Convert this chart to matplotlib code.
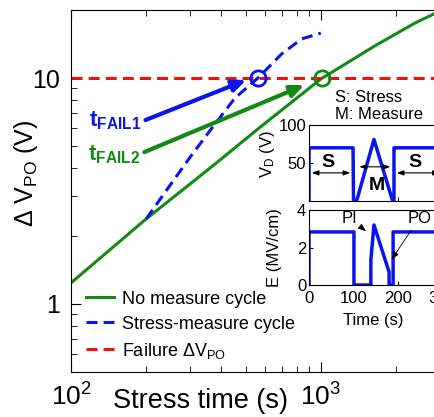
import numpy as np
import matplotlib.pyplot as plt
from matplotlib.ticker import NullFormatter

plt.rcParams['font.family'] = ['Liberation Sans', 'DejaVu Sans']
plt.rcParams['mathtext.fontset'] = 'custom'
plt.rcParams['mathtext.rm'] = 'Liberation Sans'
plt.rcParams['mathtext.it'] = 'Liberation Sans'
plt.rcParams['mathtext.bf'] = 'Liberation Sans:bold'

# main curves (stress time in s, delta V_PO in V)
t_nomeas = [100, 200, 377, 560, 1000, 1650, 2380, 3000]
dv_nomeas = [1.24, 2.38, 4.16, 5.95, 9.9, 13.9, 17.5, 19.8]
t_meas = [200, 250, 300, 377, 453, 560, 698, 839, 1000]
dv_meas = [2.38, 3.37, 4.47, 6.26, 8.15, 10.0, 12.8, 14.9, 15.8]
dv_fail = 10
t_fail1 = 560
t_fail2 = 1010

# inset waveforms
t_vd = [0, 0, 99, 100, 107, 146, 188, 191, 191, 300]
vd = [0, 70, 70, 0, 0, 81, 0, 0, 70, 70]
t_e = [0, 0, 101, 101, 139, 139, 146, 180, 180, 189, 189, 300]
e_field = [0, 2.83, 2.83, 0, 0, 1.33, 3.2, 0.69, 0, 0, 2.83, 2.83]

green = '#138a13'
blue = '#0a14f0'
red = '#f01010'

fig = plt.figure(figsize=(4.35, 4.17), dpi=100)
ax = fig.add_axes([71/435, 1-372/417, 369/435, 362/417])

dash = (0, (3.6, 2.0))
ax.plot(t_nomeas, dv_nomeas, color=green, lw=2.2, label='No measure cycle')
ax.plot(t_meas, dv_meas, color=blue, lw=2.2, ls=dash, label='Stress-measure cycle')
ax.axhline(dv_fail, color=red, lw=2.2, ls=dash, label=r'Failure $\Delta$V$_{\mathrm{PO}}$')
ax.plot([t_fail1], [dv_fail], 'o', mfc='none', mec=blue, mew=2, ms=11)
ax.plot([t_fail2], [dv_fail], 'o', mfc='none', mec=green, mew=2, ms=11)

ax.annotate('', xy=(515, 9.9), xytext=(194, 6.45),
            arrowprops=dict(arrowstyle='-|>,head_length=0.8,head_width=0.35', color=blue, lw=3))
ax.annotate('', xy=(880, 9.4), xytext=(192, 4.65),
            arrowprops=dict(arrowstyle='-|>,head_length=0.8,head_width=0.35', color=green, lw=3))
ax.text(192, 6.45, r'$\mathbf{t_{FAIL1}}$', color=blue, fontsize=16, ha='right', va='center')
ax.text(190, 4.6, r'$\mathbf{t_{FAIL2}}$', color=green, fontsize=16, ha='right', va='center')

ax.set_xscale('log')
ax.set_yscale('log')
ax.set_xlim(100, 3000)
ax.set_ylim(0.5, 20)
ax.set_yticks([1, 10])
ax.set_yticklabels(['1', '10'])
ax.yaxis.set_minor_formatter(NullFormatter())
ax.xaxis.set_minor_formatter(NullFormatter())
ax.tick_params(which='both', direction='in', top=True, labelsize=18, pad=8)
ax.tick_params(axis='x', labelsize=19)
ax.tick_params(which='major', length=7)
ax.tick_params(which='minor', length=4)
ax.spines['right'].set_visible(False)

ax.set_xlabel('Stress time (s)', fontsize=19.5)
ax.xaxis.set_label_coords(0.35, -0.045)
ax.set_ylabel(r'$\Delta$ V$_{\mathrm{PO}}$ (V)', fontsize=18)
ax.yaxis.set_label_coords(-0.085, 0.55)

ax.legend(loc='upper left', bbox_to_anchor=(0.02, 0.245), frameon=False, fontsize=13,
          handlelength=1.6, handletextpad=0.4, labelspacing=0.45, borderaxespad=0)

fig.text(335/435, 1-97/417, 'S: Stress', fontsize=12, va='center')
fig.text(335/435, 1-114/417, 'M: Measure', fontsize=12, va='center')

# inset: drain voltage
ax1 = fig.add_axes([309/435, 1-201/417, 133.5/435, 76/417])
ax1.plot(t_vd, vd, color=blue, lw=2.5)
ax1.set_xlim(0, 300)
ax1.set_ylim(0, 100)
ax1.set_yticks([50, 100])
ax1.set_xticks([0, 100, 200, 300])
ax1.set_xticklabels([])
ax1.tick_params(direction='in', labelsize=12, length=3, pad=2)
ax1.set_ylabel('V$_{\\mathrm{D}}$ (V)', fontsize=12)
ax1.yaxis.set_label_coords(-0.24, 0.62)
arr = dict(arrowstyle='<|-|>,head_length=0.4,head_width=0.15', color='black', lw=0.8)
ax1.annotate('', xy=(0, 37), xytext=(99, 37), arrowprops=arr)
ax1.annotate('', xy=(107, 45), xytext=(189, 45), arrowprops=arr)
ax1.annotate('', xy=(191, 37), xytext=(300, 37), arrowprops=arr)
ax1.text(43, 51, 'S', fontsize=14, fontweight='bold', ha='center', va='center')
ax1.text(152, 20, 'M', fontsize=14, fontweight='bold', ha='center', va='center')
ax1.text(238, 51, 'S', fontsize=14, fontweight='bold', ha='center', va='center')

# inset: electric field
ax2 = fig.add_axes([309/435, 1-285/417, 133.5/435, 75/417])
ax2.plot(t_e, e_field, color=blue, lw=2.5)
ax2.set_xlim(0, 300)
ax2.set_ylim(0, 4)
ax2.set_yticks([0, 2, 4])
ax2.set_xticks([0, 100, 200, 300])
ax2.tick_params(direction='in', labelsize=12, length=3, pad=2)
ax2.tick_params(axis='x', pad=4)
ax2.set_ylabel('E (MV/cm)', fontsize=12)
ax2.yaxis.set_label_coords(-0.2, 0.5)
ax2.set_xlabel('Time (s)', fontsize=12)
ax2.xaxis.set_label_coords(0.48, -0.38)
thin = dict(arrowstyle='-|>,head_length=0.4,head_width=0.15', color='black', lw=0.6)
ax2.annotate('PI', xy=(133, 2.77), xytext=(92, 3.57), fontsize=12, ha='center', va='center',
             arrowprops=thin)
ax2.annotate('PO', xy=(182, 1.23), xytext=(248, 3.57), fontsize=12, ha='center', va='center',
             arrowprops=thin)

fig.savefig('out.png', dpi=100)
